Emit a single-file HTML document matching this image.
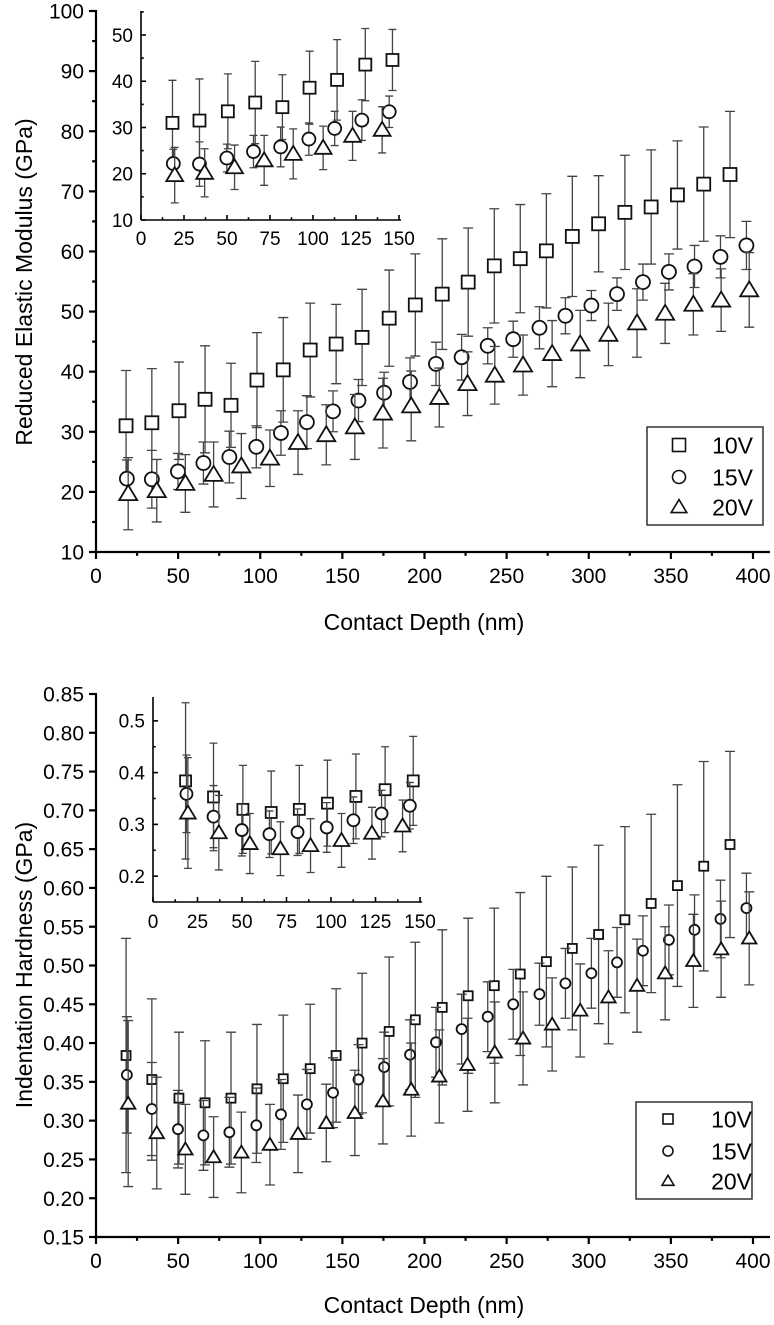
<!DOCTYPE html>
<html><head><meta charset="utf-8"><style>
html,body{margin:0;padding:0;background:#fff;}
svg{display:block;font-family:"Liberation Sans",Arial,sans-serif;}
</style></head><body>
<svg id="fig" width="774" height="1325" viewBox="0 0 774 1325" xmlns="http://www.w3.org/2000/svg"></svg>
<script>
// ---- data ----
const x10 = [18.3,34,50.5,66.4,82.2,98,114,130.4,146.2,162,178.5,194.4,210.8,226.6,242.5,258.3,274.2,290,306,322,338,354,370,386];
const x15 = [18.8,34,49.9,65.4,81.2,97.6,112.6,128.4,144.3,159.8,175.4,191.2,207,222.6,238.5,254,270,285.8,301.6,317.2,333,348.8,364.4,380.2,396];
const x20 = [19.6,37,54.4,71.6,88.5,105.9,123,140.2,157.6,174.7,191.9,209,226.2,242.8,260,277.7,294.8,312,329.4,346.5,363.7,380.6,397.7];

const mod10 = [31.0,31.5,33.5,35.4,34.4,38.6,40.3,43.6,44.6,45.7,48.9,51.1,52.9,54.9,57.6,58.8,60.1,62.5,64.6,66.5,67.4,69.4,71.2,72.8];
const mod10Err = [9.2,9.0,8.1,8.9,7.0,7.9,8.7,7.8,6.6,8.0,8.0,8.5,9.2,9.0,9.5,9.0,9.5,10,8.0,9.5,9.5,9.0,9.5,10.5];
const mod15 = [22.2,22.1,23.4,24.8,25.8,27.5,29.8,31.6,33.4,35.2,36.5,38.3,41.3,42.4,44.3,45.4,47.3,49.3,51.0,52.9,54.9,56.6,57.5,59.1,61.0];
const mod15Err = [3.1,4.8,3.0,3.5,4.3,3.5,3.7,4.4,3.4,3.5,3.4,4.0,3.6,3.8,3.0,3.0,3.5,3.0,2.5,2.7,3.0,3.0,3.5,3.5,4.0];
const mod20 = [19.7,20.2,21.4,22.9,24.3,25.6,28.2,29.5,30.8,33.1,34.3,35.7,38.0,39.4,41.1,43.0,44.6,46.2,48.1,49.7,51.2,51.9,53.6];
const mod20Err = [6.0,5.2,4.8,5.4,5.4,4.7,5.3,5.0,5.4,5.8,5.8,4.9,5.3,4.8,5.0,5.5,5.6,5.2,5.7,5.0,5.1,5.2,6.2];

const hd10 = [0.384,0.353,0.329,0.323,0.329,0.341,0.354,0.367,0.384,0.400,0.415,0.430,0.446,0.461,0.474,0.489,0.505,0.522,0.540,0.559,0.580,0.603,0.628,0.656];
const hd10Err = [0.151,0.104,0.085,0.080,0.085,0.083,0.082,0.083,0.086,0.090,0.096,0.100,0.100,0.100,0.100,0.105,0.110,0.105,0.115,0.120,0.115,0.130,0.135,0.120];
const hd15 = [0.359,0.315,0.289,0.281,0.285,0.294,0.308,0.321,0.336,0.353,0.369,0.385,0.401,0.418,0.434,0.450,0.463,0.477,0.490,0.504,0.519,0.533,0.546,0.560,0.574];
const hd15Err = [0.075,0.060,0.050,0.045,0.045,0.048,0.045,0.045,0.045,0.045,0.045,0.045,0.045,0.045,0.045,0.045,0.040,0.045,0.045,0.045,0.045,0.045,0.045,0.050,0.045];
const hd20 = [0.322,0.284,0.263,0.253,0.259,0.269,0.283,0.297,0.310,0.325,0.340,0.357,0.372,0.388,0.406,0.424,0.442,0.459,0.474,0.490,0.506,0.521,0.535];
const hd20Err = [0.107,0.072,0.058,0.052,0.052,0.052,0.050,0.050,0.055,0.055,0.060,0.060,0.060,0.065,0.060,0.060,0.060,0.060,0.060,0.060,0.060,0.062,0.060];

const mainXTicks = [0,50,100,150,200,250,300,350,400];
const insetXTicks = [0,25,50,75,100,125,150];
const modYTicks = [10,20,30,40,50,60,70,80,90,100];
const modInsetYTicks = [10,20,30,40,50];
const hdYTicks = [0.15,0.20,0.25,0.30,0.35,0.40,0.45,0.50,0.55,0.60,0.65,0.70,0.75,0.80,0.85];
const hdInsetYTicks = [0.2,0.3,0.4,0.5];
const seriesNames = ['10V','15V','20V'];

// ---- drawing ----
const NS='http://www.w3.org/2000/svg';
const svg=document.getElementById('fig');
function el(tag,attrs,parent){const e=document.createElementNS(NS,tag);for(const k in attrs)e.setAttribute(k,attrs[k]);(parent||svg).appendChild(e);return e;}
function lin(d0,d1,r0,r1){return v=>r0+(v-d0)*(r1-r0)/(d1-d0);}

function marker(g,shape,cx,cy,s,sw){
  let m;
  if(shape==='sq'){m=el('rect',{x:cx-s/2,y:cy-s/2,width:s,height:s,fill:'#fff',stroke:'#111','stroke-width':sw},g);}
  else if(shape==='ci'){m=el('ellipse',{cx:cx,cy:cy,rx:s/2,ry:s/2,fill:'#fff',stroke:'#111','stroke-width':sw},g);}
  else {const h=s*0.95;m=el('polygon',{points:`${cx},${cy-h*0.6} ${cx+s*0.6},${cy+h*0.45} ${cx-s*0.6},${cy+h*0.45}`,fill:'#fff',stroke:'#111','stroke-width':sw},g);}
  return m;
}

function drawSeries(g,xs,ys,es,xf,yf,shape,size,cap,xmax,name){
  const sg=el('g',{},g);
  
  
  for(let i=0;i<ys.length;i++){
    if(xs[i]>xmax)continue;
    const cx=xf(xs[i]),cy=yf(ys[i]),t=yf(ys[i]+es[i]),b=yf(ys[i]-es[i]);
    const eb=el('path',{d:`M${cx},${t}V${b}M${cx-cap},${t}H${cx+cap}M${cx-cap},${b}H${cx+cap}`,stroke:'#444','stroke-width':1.3,fill:'none'},sg);
    
    
  }
  for(let i=0;i<ys.length;i++){
    if(xs[i]>xmax)continue;
    const m=marker(sg,shape,xf(xs[i]),yf(ys[i]),size,1.8);
    
    
  }
}

function axes(g,o){
  el('line',{x1:o.xf(o.x0),y1:o.yf(o.y0),x2:o.xEnd,y2:o.yf(o.y0),stroke:'#000','stroke-width':o.sw},g);
  el('line',{x1:o.xf(o.x0),y1:o.yf(o.y0),x2:o.xf(o.x0),y2:o.yTop,stroke:'#000','stroke-width':o.sw},g);
  const xt=el('g',{},g);
  
  
  o.xticks.forEach(v=>{
    const x=o.xf(v),y=o.yf(o.y0);
    el('line',{x1:x,y1:y,x2:x,y2:y+o.tick,stroke:'#000','stroke-width':o.sw},xt);
    const t=el('text',{x:x,y:y+o.xlabOff,'font-size':o.fs,'text-anchor':'middle',fill:'#000'},xt);
    t.textContent=v;
  });
  o.minorX.forEach(v=>{const x=o.xf(v),y=o.yf(o.y0);el('line',{x1:x,y1:y,x2:x,y2:y+o.tick*0.55,stroke:'#000','stroke-width':o.sw},xt);});
  const yt=el('g',{},g);
  
  
  o.yticks.forEach(v=>{
    const x=o.xf(o.x0),y=o.yf(v);
    el('line',{x1:x,y1:y,x2:x-o.tick,y2:y,stroke:'#000','stroke-width':o.sw},yt);
    const t=el('text',{x:x-o.labelGap,y:y+o.fs*0.36,'font-size':o.fs,'text-anchor':'end',fill:'#000'},yt);
    t.textContent=o.fmt(v);
  });
  o.minorY.forEach(v=>{const x=o.xf(o.x0),y=o.yf(v);el('line',{x1:x,y1:y,x2:x-o.tick*0.55,y2:y,stroke:'#000','stroke-width':o.sw},yt);});
}

function legend(g,x,y,w,h,rows,mx,tx,size,fs){
  const lg=el('g',{},g);
  
  
  el('rect',{x:x,y:y,width:w,height:h,fill:'#fff',stroke:'#333','stroke-width':1.5},lg);
  const shapes=['sq','ci','tr'];
  rows.forEach((ry,i)=>{
    const e=el('g',{},lg);
    
    
    marker(e,shapes[i],mx,ry,size,1.6);
    const t=el('text',{x:tx,y:ry+fs*0.36,'font-size':fs,'text-anchor':'end',fill:'#000'},e);
    t.textContent=seriesNames[i];
  });
}

function range(a,b,s){const r=[];for(let v=a;v<=b+1e-9;v+=s)r.push(+v.toFixed(4));return r;}

// ===== Top chart =====
const topG=el('g',{});


const xT=lin(0,400,96,753), yT=lin(10,100,552,11);
axes(topG,{name:'modulus',xf:xT,yf:yT,x0:0,y0:10,xEnd:770,yTop:10,xticks:mainXTicks,yticks:modYTicks,
  minorX:range(25,375,50),minorY:range(15,95,10),fmt:v=>v,fs:21,tick:7,xlabOff:31,labelGap:12,sw:2.2});
const yl1=el('text',{x:0,y:0,'font-size':23,'text-anchor':'middle',transform:'translate(32,282) rotate(-90)'},topG);
yl1.textContent='Reduced Elastic Modulus (GPa)';


const xl1=el('text',{x:424,y:630,'font-size':23,'text-anchor':'middle'},topG);
xl1.textContent='Contact Depth (nm)';


drawSeries(topG,x10,mod10,mod10Err,xT,yT,'sq',13,5,999,'series-10v');
drawSeries(topG,x15,mod15,mod15Err,xT,yT,'ci',14,5,999,'series-15v');
drawSeries(topG,x20,mod20,mod20Err,xT,yT,'tr',15,5,999,'series-20v');
legend(topG,647,427,116,98,[445,477,507],679,753,13,23);

// inset top
const it=el('g',{},topG);


const xI=lin(0,150,141,399), yI=lin(10,50,220,35);
axes(it,{name:'modulus-inset',xf:xI,yf:yI,x0:0,y0:10,xEnd:401,yTop:11,xticks:insetXTicks,yticks:modInsetYTicks,
  minorX:range(12.5,137.5,25),minorY:range(15,55,10),fmt:v=>v,fs:19,tick:-5,xlabOff:25,labelGap:8,sw:1.6});
drawSeries(it,x10,mod10,mod10Err,xI,yI,'sq',12,4,150,'inset-series-10v');
drawSeries(it,x15,mod15,mod15Err,xI,yI,'ci',13,4,150,'inset-series-15v');
drawSeries(it,x20,mod20,mod20Err,xI,yI,'tr',14,4,150,'inset-series-20v');

// ===== Bottom chart =====
const botG=el('g',{});


const xB=lin(0,400,96,753), yB=lin(0.15,0.85,1237,694);
axes(botG,{name:'hardness',xf:xB,yf:yB,x0:0,y0:0.15,xEnd:770,yTop:693,xticks:mainXTicks,yticks:hdYTicks,
  minorX:range(25,375,50),minorY:[],fmt:v=>v.toFixed(2),fs:21,tick:7,xlabOff:31,labelGap:12,sw:2.2});
const yl2=el('text',{x:0,y:0,'font-size':23,'text-anchor':'middle',transform:'translate(32,965) rotate(-90)'},botG);
yl2.textContent='Indentation Hardness (GPa)';


const xl2=el('text',{x:424,y:1313,'font-size':23,'text-anchor':'middle'},botG);
xl2.textContent='Contact Depth (nm)';


drawSeries(botG,x10,hd10,hd10Err,xB,yB,'sq',9,5,999,'series-10v');
drawSeries(botG,x15,hd15,hd15Err,xB,yB,'ci',10,5,999,'series-15v');
drawSeries(botG,x20,hd20,hd20Err,xB,yB,'tr',12,5,999,'series-20v');
legend(botG,636,1102,116,97,[1119,1151,1181],668,752,10,23);

// inset bottom
const ib=el('g',{},botG);


const xI2=lin(0,150,153,420), yI2=lin(0.15,0.55,902,695);
axes(ib,{name:'hardness-inset',xf:xI2,yf:yI2,x0:0,y0:0.15,xEnd:422,yTop:697,xticks:insetXTicks,yticks:hdInsetYTicks,
  minorX:range(12.5,137.5,25),minorY:range(0.25,0.45,0.1),fmt:v=>v.toFixed(1),fs:19,tick:-5,xlabOff:26,labelGap:8,sw:1.6});
drawSeries(ib,x10,hd10,hd10Err,xI2,yI2,'sq',11,4,150,'inset-series-10v');
drawSeries(ib,x15,hd15,hd15Err,xI2,yI2,'ci',12,4,150,'inset-series-15v');
drawSeries(ib,x20,hd20,hd20Err,xI2,yI2,'tr',13,4,150,'inset-series-20v');
</script>
</body></html>
